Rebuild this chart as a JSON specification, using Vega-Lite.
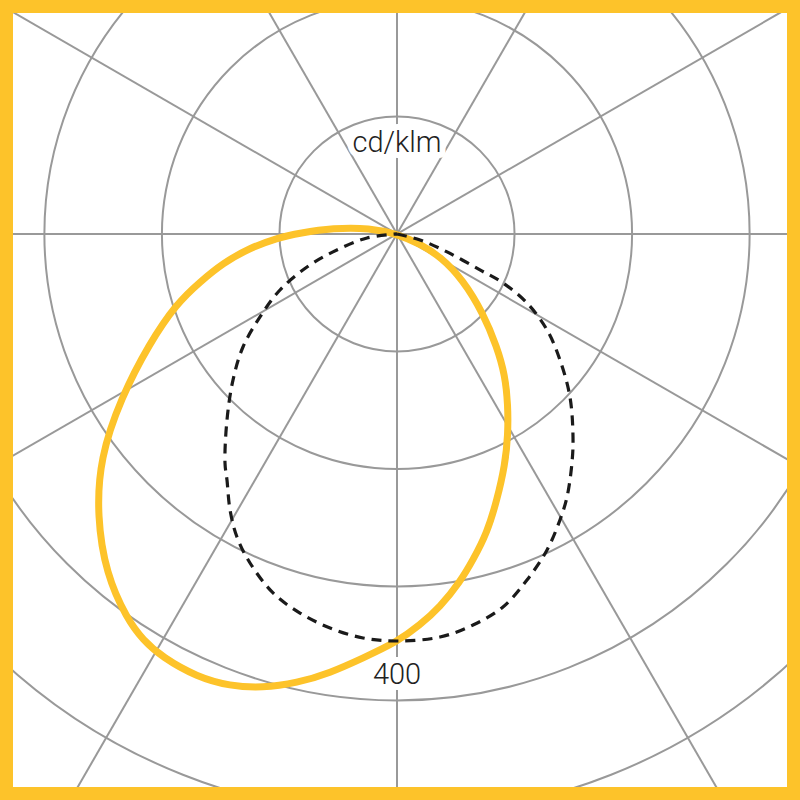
{
  "$schema": "https://vega.github.io/schema/vega-lite/v6.json",
  "width": 800,
  "height": 800,
  "padding": 0,
  "autosize": {"type": "none"},
  "background": "white",
  "datasets": {
    "rings": [{"r": 100}, {"r": 200}, {"r": 300}, {"r": 397}, {"r": 495}],
    "spokes": [
      {"x": -1000, "y": 0, "x2": 1000, "y2": 0},
      {"x": -866, "y": -500, "x2": 866, "y2": 500},
      {"x": -500, "y": -866, "x2": 500, "y2": 866},
      {"x": 0, "y": -1000, "x2": 0, "y2": 1000},
      {"x": 500, "y": -866, "x2": -500, "y2": 866},
      {"x": 866, "y": -500, "x2": -866, "y2": 500}
    ],
    "lamp": [
      {"i": 1, "x": 0, "y": 0},
      {"i": 2, "x": 19.57, "y": -8.51},
      {"i": 3, "x": 37.45, "y": -19.57},
      {"i": 4, "x": 56.17, "y": -39.15},
      {"i": 5, "x": 73.19, "y": -67.23},
      {"i": 6, "x": 85.11, "y": -96.17},
      {"i": 7, "x": 91.91, "y": -120.0},
      {"i": 8, "x": 94.47, "y": -145.53},
      {"i": 9, "x": 94.47, "y": -171.06},
      {"i": 10, "x": 91.91, "y": -196.6},
      {"i": 11, "x": 85.11, "y": -226.38},
      {"i": 12, "x": 76.6, "y": -254.47},
      {"i": 13, "x": 64.68, "y": -277.45},
      {"i": 14, "x": 53.62, "y": -296.17},
      {"i": 15, "x": 36.6, "y": -317.45},
      {"i": 16, "x": 19.57, "y": -332.77},
      {"i": 17, "x": 0, "y": -347.23},
      {"i": 18, "x": -28.94, "y": -360.85},
      {"i": 19, "x": -57.02, "y": -373.62},
      {"i": 20, "x": -85.11, "y": -382.13},
      {"i": 21, "x": -114.89, "y": -386.38},
      {"i": 22, "x": -142.13, "y": -384.68},
      {"i": 23, "x": -170.21, "y": -377.02},
      {"i": 24, "x": -200.0, "y": -360.0},
      {"i": 25, "x": -216.17, "y": -345.53},
      {"i": 26, "x": -229.79, "y": -327.66},
      {"i": 27, "x": -247.66, "y": -289.36},
      {"i": 28, "x": -255.32, "y": -240.0},
      {"i": 29, "x": -252.77, "y": -190.64},
      {"i": 30, "x": -234.89, "y": -139.57},
      {"i": 31, "x": -211.06, "y": -93.62},
      {"i": 32, "x": -187.23, "y": -58.72},
      {"i": 33, "x": -167.66, "y": -40.85},
      {"i": 34, "x": -148.09, "y": -24.68},
      {"i": 35, "x": -125.11, "y": -11.91},
      {"i": 36, "x": -102.13, "y": -3.4},
      {"i": 37, "x": -82.55, "y": 0.85},
      {"i": 38, "x": -54.47, "y": 5.11},
      {"i": 39, "x": -22.98, "y": 5.11}
    ],
    "reference": [
      {"i": 0, "x": 0, "y": 0},
      {"i": 1, "x": 19.6, "y": -5.1},
      {"i": 2, "x": 42.6, "y": -15.3},
      {"i": 3, "x": 70.6, "y": -30.6},
      {"i": 4, "x": 90.2, "y": -41.7},
      {"i": 5, "x": 110.6, "y": -58.7},
      {"i": 6, "x": 127.7, "y": -81.7},
      {"i": 7, "x": 138.7, "y": -107.2},
      {"i": 8, "x": 147.2, "y": -138.7},
      {"i": 9, "x": 149.8, "y": -172.8},
      {"i": 10, "x": 148.9, "y": -194.9},
      {"i": 11, "x": 144.7, "y": -223.8},
      {"i": 12, "x": 138.7, "y": -243.4},
      {"i": 13, "x": 127.7, "y": -268.9},
      {"i": 14, "x": 110.6, "y": -294.5},
      {"i": 15, "x": 90.2, "y": -317.4},
      {"i": 16, "x": 64.7, "y": -332.8},
      {"i": 17, "x": 36.6, "y": -343.0},
      {"i": 18, "x": 0, "y": -346.4},
      {"i": 19, "x": -28.9, "y": -343.8},
      {"i": 20, "x": -57.0, "y": -335.3},
      {"i": 21, "x": -82.6, "y": -322.6},
      {"i": 22, "x": -105.5, "y": -305.5},
      {"i": 23, "x": -125.1, "y": -280.0},
      {"i": 24, "x": -136.2, "y": -257.9},
      {"i": 25, "x": -142.1, "y": -234.9},
      {"i": 26, "x": -144.7, "y": -209.4},
      {"i": 27, "x": -146.4, "y": -194.9},
      {"i": 28, "x": -144.7, "y": -158.3},
      {"i": 29, "x": -139.6, "y": -124.3},
      {"i": 30, "x": -131.1, "y": -96.2},
      {"i": 31, "x": -116.6, "y": -70.6},
      {"i": 32, "x": -99.6, "y": -47.7},
      {"i": 33, "x": -76.6, "y": -28.1},
      {"i": 34, "x": -54.5, "y": -15.3},
      {"i": 35, "x": -25.5, "y": -3.4},
      {"i": 36, "x": 0, "y": 0}
    ],
    "labels": [
      {"text": "cd/klm", "x": 0, "y": 77},
      {"text": "400", "x": 0, "y": -375}
    ]
  },
  "encoding": {
    "x": {"type": "quantitative", "scale": {"domain": [-337.9, 343.0], "nice": false, "zero": false}, "axis": null},
    "y": {"type": "quantitative", "scale": {"domain": [-481.7, 199.1], "nice": false, "zero": false}, "axis": null}
  },
  "layer": [
    {
      "data": {"name": "rings"},
      "mark": {"type": "arc", "filled": false, "stroke": "#999999", "strokeWidth": 2, "theta": 0, "theta2": 6.2832, "clip": true},
      "encoding": {
        "x": {"datum": 0},
        "y": {"datum": 0},
        "radius": {"field": "r", "type": "quantitative", "stack": null, "scale": {"type": "linear", "zero": true, "domain": [0, 100], "range": [0, 117.5]}}
      }
    },
    {
      "data": {"name": "spokes"},
      "mark": {"type": "rule", "stroke": "#999999", "strokeWidth": 2, "clip": true},
      "encoding": {
        "x": {"field": "x"},
        "y": {"field": "y"},
        "x2": {"field": "x2"},
        "y2": {"field": "y2"}
      }
    },
    {
      "data": {"name": "lamp"},
      "mark": {"type": "line", "stroke": "#FDC32A", "strokeWidth": 7, "interpolate": "basis-closed", "clip": true},
      "encoding": {
        "x": {"field": "x"},
        "y": {"field": "y"},
        "order": {"field": "i", "type": "quantitative"}
      }
    },
    {
      "data": {"name": "reference"},
      "mark": {"type": "line", "stroke": "#1a1a1a", "strokeWidth": 3.2, "strokeDash": [10, 7], "interpolate": "catmull-rom", "clip": true},
      "encoding": {
        "x": {"field": "x"},
        "y": {"field": "y"},
        "order": {"field": "i", "type": "quantitative"}
      }
    },
    {
      "data": {"name": "labels"},
      "mark": {"type": "text", "font": "Roboto", "fontWeight": 300, "fontSize": 29, "stroke": "white", "strokeWidth": 12, "strokeJoin": "round", "fill": "white", "baseline": "middle", "align": "center"},
      "encoding": {
        "x": {"field": "x"},
        "y": {"field": "y"},
        "text": {"field": "text"}
      }
    },
    {
      "data": {"name": "labels"},
      "mark": {"type": "text", "font": "Roboto", "fontWeight": 300, "fontSize": 29, "fill": "#222222", "baseline": "middle", "align": "center"},
      "encoding": {
        "x": {"field": "x"},
        "y": {"field": "y"},
        "text": {"field": "text"}
      }
    },
    {
      "data": {"values": [{}]},
      "mark": {"type": "rect", "filled": false, "stroke": "#FDC32A", "strokeWidth": 26},
      "encoding": {
        "x": {"datum": -337.9},
        "x2": {"datum": 343.0},
        "y": {"datum": -481.7},
        "y2": {"datum": 199.1}
      }
    }
  ],
  "config": {"view": {"stroke": null}}
}
